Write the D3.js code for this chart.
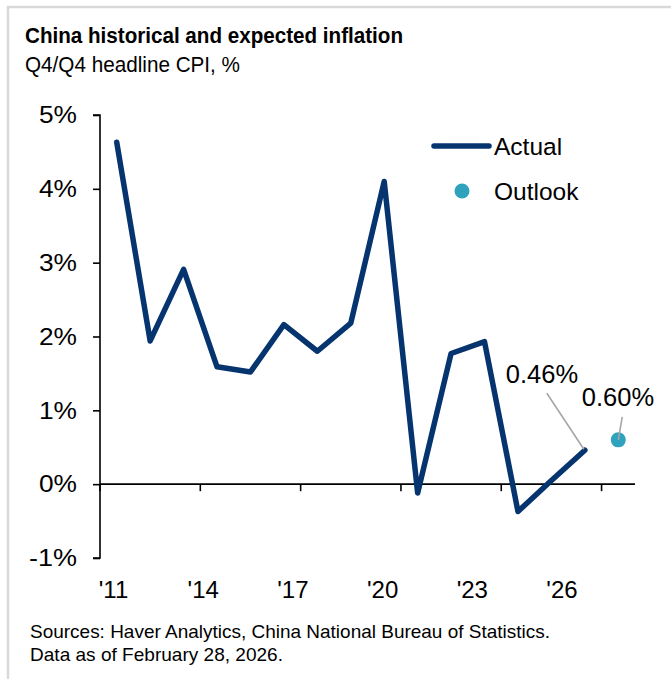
<!DOCTYPE html>
<html>
<head>
<meta charset="utf-8">
<script src="https://cdn.jsdelivr.net/npm/d3@7"></script>
<style>
  html, body { margin: 0; padding: 0; background: #ffffff; }
  svg { display: block; font-family: Arial, "Liberation Sans", sans-serif; }
</style>
</head>
<body>
<svg id="chart" width="671" height="679"></svg>
<script>
// Q4/Q4 headline CPI, %
const years = ["2011","2012","2013","2014","2015","2016","2017","2018","2019","2020","2021","2022","2023","2024","2025","2026"];
const actualYears = ["2011","2012","2013","2014","2015","2016","2017","2018","2019","2020","2021","2022","2023","2024","2025"];
const actualValues = [4.63, 1.94, 2.91, 1.59, 1.52, 2.16, 1.80, 2.18, 4.10, -0.12, 1.77, 1.93, -0.37, 0.05, 0.46];
const outlookYears = ["2026"];
const outlookValues = [0.60];
const yTicks = [-1, 0, 1, 2, 3, 4, 5];
const xTickLabels = ["'11", "'14", "'17", "'20", "'23", "'26"];

const svg = d3.select("#chart");

// light frame along the top and left edges
svg.append("path")
  .attr("d", "M8,679 V7 H671")
  .attr("fill", "none")
  .attr("stroke", "#d9d9d9")
  .attr("stroke-width", 2.5);

// titles
svg.append("text").attr("x", 25).attr("y", 43)
  .attr("font-size", 22).attr("font-weight", "bold").attr("fill", "#000")
  .attr("textLength", 378).attr("lengthAdjust", "spacingAndGlyphs")
  .text("China historical and expected inflation");
svg.append("text").attr("x", 25).attr("y", 72)
  .attr("font-size", 22).attr("fill", "#000")
  .attr("textLength", 215).attr("lengthAdjust", "spacingAndGlyphs")
  .text("Q4/Q4 headline CPI, %");

const plot = { left: 100, right: 635, top: 115, bottom: 558 };

const x = d3.scaleBand().domain(years).range([plot.left, plot.right]).padding(0);
const y = d3.scaleLinear().domain([-1, 5]).range([plot.bottom, plot.top]);
const cx = d => x(d) + x.bandwidth() / 2;

// y axis
const yAxis = svg.append("g").attr("transform", `translate(${plot.left},0)`)
  .call(d3.axisLeft(y).tickValues(yTicks).tickSize(7).tickPadding(16)
    .tickFormat(d => d + "%"));
yAxis.select(".domain").attr("d", `M-7,${y(-1)}H0V${y(5)}H-7`).attr("stroke", "#000").attr("stroke-width", 1.6);
yAxis.selectAll(".tick line").attr("stroke", "#000").attr("stroke-width", 1.6);
yAxis.selectAll(".tick text").attr("font-size", 24).attr("fill", "#000")
  .attr("font-family", "Arial, 'Liberation Sans', sans-serif")
  .attr("textLength", d => (d < 0 ? 48 : 38)).attr("lengthAdjust", "spacingAndGlyphs");

// x axis along zero line, ticks every third category boundary
const boundaryTicks = years.filter((d, i) => i % 3 === 0);
const xAxis = svg.append("g").attr("transform", `translate(0,${y(0)})`)
  .call(d3.axisBottom(x).tickValues(boundaryTicks).tickSize(7).tickFormat(""));
xAxis.select(".domain").attr("d", `M${plot.left},0H${plot.right}`).attr("stroke", "#000").attr("stroke-width", 1.6);
xAxis.selectAll(".tick").attr("transform", d => `translate(${x(d)},0)`);
xAxis.selectAll(".tick line").attr("stroke", "#000").attr("stroke-width", 1.6);

// year labels below the plot
const xl = d3.scalePoint().domain(xTickLabels).range([113.5, 562]);
svg.append("g").selectAll("text").data(xTickLabels).join("text")
  .attr("x", d => xl(d)).attr("y", 598)
  .attr("text-anchor", "middle").attr("font-size", 24).attr("fill", "#000")
  .text(d => d);

// actual series
const lineGen = d3.line().x((d, i) => cx(actualYears[i])).y(d => y(d));
svg.append("path").datum(actualValues)
  .attr("d", lineGen)
  .attr("fill", "none")
  .attr("stroke", "#06346F")
  .attr("stroke-width", 5.5)
  .attr("stroke-linejoin", "round")
  .attr("stroke-linecap", "round");

// outlook point
svg.append("g").selectAll("circle").data(outlookValues).join("circle")
  .attr("cx", (d, i) => cx(outlookYears[i])).attr("cy", d => y(d))
  .attr("r", 7.5).attr("fill", "#2FA3BD");

// value callouts with leader lines
const lastIdx = actualValues.length - 1;
const lastX = cx(actualYears[lastIdx]), lastY = y(actualValues[lastIdx]);
svg.append("line")
  .attr("x1", lastX - 38).attr("y1", lastY - 57)
  .attr("x2", lastX - 1).attr("y2", lastY - 1)
  .attr("stroke", "#a6a6a6").attr("stroke-width", 1.6);
svg.append("text").attr("x", lastX - 79).attr("y", lastY - 67)
  .attr("font-size", 25.5).attr("fill", "#000")
  .text(actualValues[lastIdx].toFixed(2) + "%");

const oX = cx(outlookYears[0]), oY = y(outlookValues[0]);
svg.append("line")
  .attr("x1", oX + 4).attr("y1", oY - 23)
  .attr("x2", oX).attr("y2", oY)
  .attr("stroke", "#a6a6a6").attr("stroke-width", 1.6);
svg.append("text").attr("x", oX - 36.5).attr("y", oY - 34)
  .attr("font-size", 25.5).attr("fill", "#000")
  .text(outlookValues[0].toFixed(2) + "%");

// legend
const legend = svg.append("g");
legend.append("line").attr("x1", 434).attr("x2", 489).attr("y1", 146).attr("y2", 146)
  .attr("stroke", "#06346F").attr("stroke-width", 5.5).attr("stroke-linecap", "round");
legend.append("text").attr("x", 494).attr("y", 155).attr("font-size", 24.5).attr("fill", "#000").text("Actual");
legend.append("circle").attr("cx", 462).attr("cy", 191).attr("r", 7.5).attr("fill", "#2FA3BD");
legend.append("text").attr("x", 494).attr("y", 200).attr("font-size", 24.5).attr("fill", "#000").text("Outlook");

// source note
const note = svg.append("g").attr("font-size", 18.2).attr("fill", "#000");
note.append("text").attr("x", 30).attr("y", 638)
  .attr("textLength", 520).attr("lengthAdjust", "spacingAndGlyphs")
  .text("Sources: Haver Analytics, China National Bureau of Statistics.");
note.append("text").attr("x", 30).attr("y", 661)
  .attr("textLength", 253).attr("lengthAdjust", "spacingAndGlyphs")
  .text("Data as of February 28, 2026.");
</script>
</body>
</html>
